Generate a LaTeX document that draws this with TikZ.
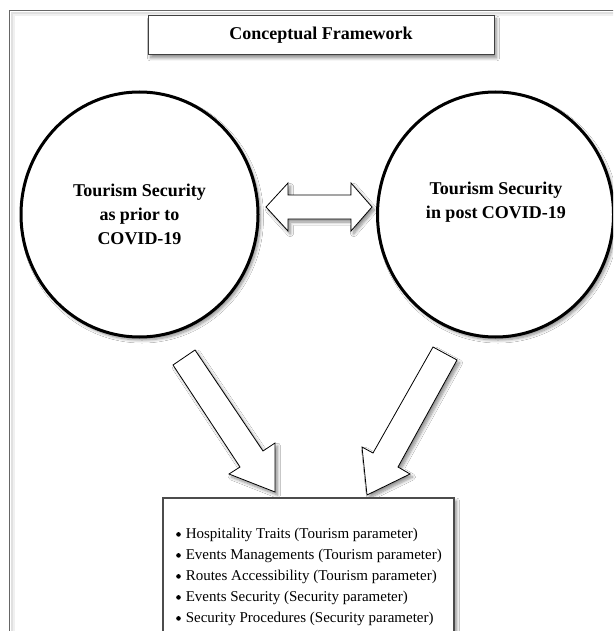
\documentclass[tikz,border=0pt]{standalone}
\usepackage{fontspec}
\setmainfont{Liberation Serif}
\usetikzlibrary{shadows.blur,shapes.geometric}
\newcommand{\mydot}{\tikz[baseline=0pt]\fill (0,3.6pt) circle[radius=2.3pt];}
\begin{document}
\begin{tikzpicture}[x=1pt,y=-1pt,
  shad/.style={blur shadow={shadow xshift=2.5pt,shadow yshift=-3pt,shadow blur radius=3pt,shadow blur steps=8,shadow opacity=45}},
  bubble/.style={ellipse,draw=black,line width=3pt,fill=white,inner sep=0pt,shad},
  bubbletext/.style={align=center,font=\fontsize{18}{24}\selectfont\bfseries,inner sep=0pt},
  boxstyle/.style={draw=black!75,line width=1pt,fill=white,shad},
  fatarrow/.style={draw=black,line width=0.8pt,fill=white,line join=miter,shad},
  framestyle/.style={draw=black!60,line width=1pt}]
\useasboundingbox (0,0) rectangle (613,631);
\clip (0,0) rectangle (613,631);
\fill[white] (0,0) rectangle (613,631);
% outer frame with faint inner shade
\draw[black!12,line width=2pt] (11.5,650) -- (11.5,13.5) -- (630,13.5);
\draw[black!6,line width=2pt] (13.5,650) -- (13.5,15.5) -- (630,15.5);
\draw[framestyle] (9,650) -- (9,11) -- (630,11);
% title
\node[boxstyle,minimum width=346pt,minimum height=39pt,inner sep=0pt,
  font=\fontsize{18}{22}\selectfont\bfseries] (title) at (321,35.5) {Conceptual Framework};
% bubbles
\node[bubble,minimum width=237pt,minimum height=245pt] (pre) at (139.5,214.5) {};
\node[bubble,minimum width=236pt,minimum height=245pt] (post) at (495.5,214.5) {};
\node[bubbletext] (pretext) at (139.5,214) {Tourism Security\\as prior to\\COVID-19};
\node[bubbletext] (posttext) at (496,202.5) {Tourism Security\\in post COVID-19};
% double arrow
\draw[fatarrow] (266,207) -- (288,183) -- (288,195) -- (351,195) -- (351,183) -- (372,207)
  -- (351,231) -- (351,219) -- (288,219) -- (288,231) -- cycle;
% down arrows
\draw[fatarrow] (173,365) -- (195,350) -- (263,451) -- (275,443) -- (275,492) -- (229,474) -- (240,467) -- cycle;
\draw[fatarrow] (433,347) -- (457,360) -- (398,467) -- (410,474) -- (367,495) -- (362,447) -- (373,453) -- cycle;
% result box
\draw[boxstyle,draw=black!70,line width=1.2pt] (163,660) -- (163,498) -- (454,498) -- (454,660);
\node[anchor=base west,inner sep=0pt,font=\fontsize{15}{21}\selectfont] (params) at (176,538)
{\begin{tabular}[t]{@{}l@{\hspace{5pt}}l@{}}
\mydot & Hospitality Traits (Tourism parameter)\\
\mydot & Events Managements (Tourism parameter)\\
\mydot & Routes Accessibility (Tourism parameter)\\
\mydot & Events Security (Security parameter)\\
\mydot & Security Procedures (Security parameter)
\end{tabular}};
\end{tikzpicture}
\end{document}
